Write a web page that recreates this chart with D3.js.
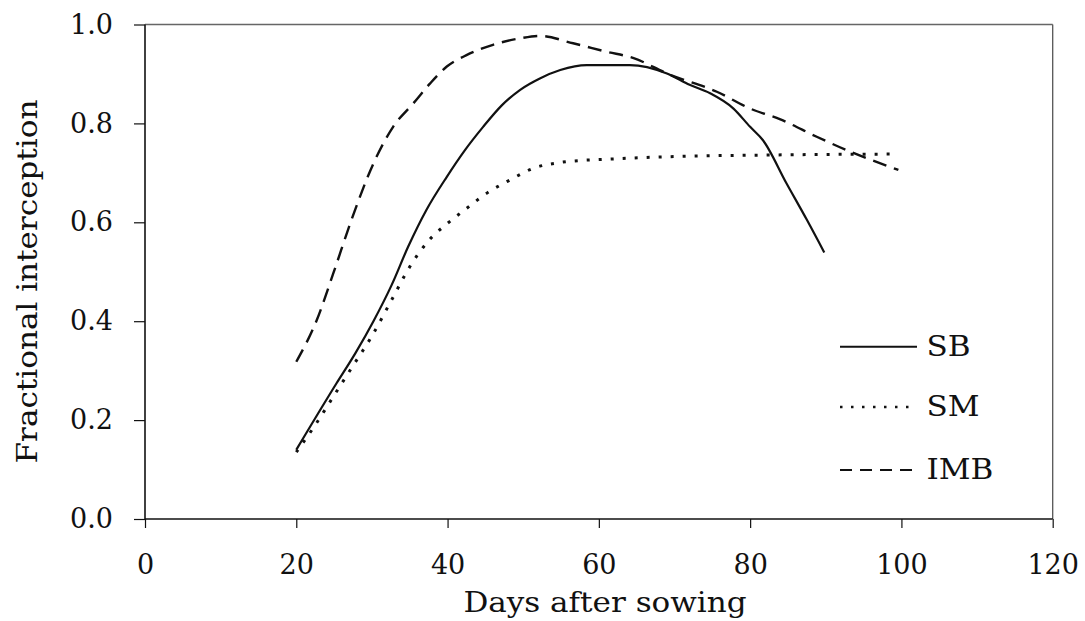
<!DOCTYPE html>
<html>
<head>
<meta charset="utf-8">
<script src="https://cdn.jsdelivr.net/npm/d3@7"></script>
<style>
  html, body { margin: 0; padding: 0; background: #fff; }
  svg { display: block; }
  text { font-family: "DejaVu Serif", serif; fill: #111; }
</style>
</head>
<body>
<svg id="chart" width="1085" height="621"></svg>
<script>
// ---- data ----
const sbDays   = [20, 25.3, 27.8, 30.2, 32.6, 34.8, 37.2, 39.9, 42.3, 44.7, 47.2, 49.6, 52.2, 54.9, 58.4, 64.1, 69, 72, 74.7, 77.8, 80, 81.7, 84.8, 87.5, 89.8];
const sbValues = [0.14, 0.274, 0.335, 0.40, 0.473, 0.551, 0.625, 0.692, 0.746, 0.793, 0.837, 0.868, 0.891, 0.908, 0.918, 0.918, 0.901, 0.878, 0.861, 0.83, 0.793, 0.766, 0.679, 0.605, 0.539];

const smDays   = [20, 22.5, 25, 27.5, 30, 32.5, 35, 37.5, 40, 42.5, 45.2, 48.3, 51.3, 54.9, 57.5, 60.2, 70, 82, 98.5];
const smValues = [0.135, 0.19, 0.25, 0.31, 0.37, 0.44, 0.51, 0.563, 0.598, 0.628, 0.659, 0.686, 0.709, 0.721, 0.725, 0.727, 0.733, 0.736, 0.738];

const imbDays   = [20, 22.7, 24.9, 27.3, 30.2, 32.8, 35.5, 37.7, 39.9, 42.5, 46, 49.6, 52.2, 56.6, 61, 64.6, 69, 75.6, 80, 84, 88.8, 93.2, 99.6];
const imbValues = [0.318, 0.402, 0.497, 0.605, 0.719, 0.793, 0.841, 0.881, 0.915, 0.938, 0.959, 0.972, 0.977, 0.962, 0.945, 0.932, 0.901, 0.864, 0.83, 0.808, 0.773, 0.743, 0.706];

const seriesNames = ["SB", "SM", "IMB"];
const xTicks = [0, 20, 40, 60, 80, 100, 120];
const yTicks = [0.0, 0.2, 0.4, 0.6, 0.8, 1.0];
const xTitle = "Days after sowing";
const yTitle = "Fractional interception";

// ---- layout ----
const svg = d3.select("#chart");
const pLeft = 145, pRight = 1052.7, pTop = 24.5, pBottom = 519;
const x = d3.scaleLinear().domain([0, 120]).range([pLeft, pRight]);
const y = d3.scaleLinear().domain([0, 1]).range([pBottom, pTop]);
const stretch = 1.15; // reference face is wider than DejaVu Serif

// frame (top / right)
svg.append("line").attr("x1", pLeft).attr("x2", pRight).attr("y1", pTop).attr("y2", pTop)
  .attr("stroke", "#666").attr("stroke-width", 1.3);
svg.append("line").attr("x1", pRight).attr("x2", pRight).attr("y1", pTop).attr("y2", pBottom)
  .attr("stroke", "#555").attr("stroke-width", 1.3);

// axes
const xAxis = d3.axisBottom(x).tickValues(xTicks).tickSize(9).tickPadding(27).tickFormat(d3.format("d"));
const yAxis = d3.axisLeft(y).tickValues(yTicks).tickSize(11).tickPadding(21).tickFormat(d3.format(".1f"));

const gx = svg.append("g").attr("transform", `translate(0,${pBottom})`).call(xAxis);
const gy = svg.append("g").attr("transform", `translate(${pLeft},0)`).call(yAxis);
[gx, gy].forEach(g => {
  g.select(".domain").attr("stroke", "#111").attr("stroke-width", 1.6);
  g.selectAll(".tick line").attr("stroke", "#111").attr("stroke-width", 1.2);
  g.selectAll(".tick text").style("font-family", "'DejaVu Serif', serif").style("font-size", "27px").attr("fill", "#111");
});
gx.select(".domain").attr("d", `M${pLeft},0H${pRight}`);
gy.select(".domain").attr("d", `M0,${pBottom}V${pTop}`);

// titles
svg.append("text").attr("transform", `translate(605,612) scale(${stretch},1)`).attr("text-anchor", "middle")
  .style("font-size", "27px").text(xTitle);
svg.append("text").attr("transform", `translate(37,281.5) rotate(-90) scale(${stretch},1)`).attr("text-anchor", "middle")
  .style("font-size", "27px").text(yTitle);

// lines
const line = d3.line().x(d => x(d[0])).y(d => y(d[1])).curve(d3.curveMonotoneX);
const styles = {
  SB:  { width: 2.2, dash: null },
  SM:  { width: 3,   dash: "3,9" },
  IMB: { width: 2.4, dash: "14,8" }
};
const data = {
  SB:  d3.zip(sbDays, sbValues),
  SM:  d3.zip(smDays, smValues),
  IMB: d3.zip(imbDays, imbValues)
};
seriesNames.forEach(name => {
  svg.append("path").datum(data[name]).attr("d", line)
    .attr("fill", "none").attr("stroke", "#111")
    .attr("stroke-width", styles[name].width)
    .attr("stroke-dasharray", styles[name].dash);
});

// legend
const legY = d3.scaleOrdinal().domain(seriesNames).range([346.7, 407, 470]);
const legendStyles = {
  SB:  { width: 2, dash: null },
  SM:  { width: 2.6, dash: "2.5,8.5" },
  IMB: { width: 2.2, dash: "12,8" }
};
seriesNames.forEach(name => {
  svg.append("line").attr("x1", 840).attr("x2", 917)
    .attr("y1", legY(name)).attr("y2", legY(name))
    .attr("stroke", "#111").attr("stroke-width", legendStyles[name].width)
    .attr("stroke-dasharray", legendStyles[name].dash);
  svg.append("text").attr("transform", `translate(926.5,${legY(name) + 9}) scale(${stretch},1)`)
    .style("font-size", "27px").text(name);
});
</script>
</body>
</html>
